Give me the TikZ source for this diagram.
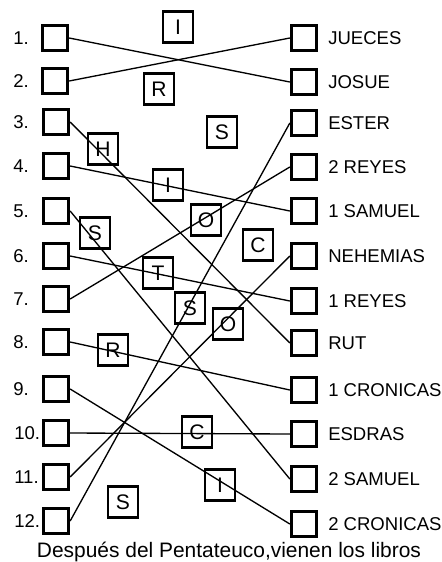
\documentclass[tikz,border=0pt]{standalone}
\usepackage{fontspec}
\setmainfont{Liberation Sans}
\tikzset{
  ans/.style={draw, line width=2.5pt, minimum size=18.75pt, inner sep=0pt},
  letra/.style={draw, line width=2pt, minimum width=22.5pt, minimum height=23.25pt, inner sep=0pt, font=\fontsize{15.8}{18}\selectfont},
  lbl/.style={anchor=west, inner sep=0pt, font=\fontsize{13.9}{16}\selectfont},
  link/.style={line width=1pt}
}
\begin{document}
\begin{tikzpicture}[x=0.75pt, y=-0.75pt]
    \useasboundingbox (0,0) rectangle (442,562);

    % Left column: numbered boxes
    \node[ans] (l1) at (55,38) {};
    \node[ans] (l2) at (55,81) {};
    \node[ans] (l3) at (56,122) {};
    \node[ans] (l4) at (56,166) {};
    \node[ans] (l5) at (56,211) {};
    \node[ans] (l6) at (56,256) {};
    \node[ans] (l7) at (56,299) {};
    \node[ans] (l8) at (56,342) {};
    \node[ans] (l9) at (56,389) {};
    \node[ans] (l10) at (56,433) {};
    \node[ans] (l11) at (56,477) {};
    \node[ans] (l12) at (56,521) {};

    \node[lbl] (n1) at (13,38) {1.};
    \node[lbl] (n2) at (13,81) {2.};
    \node[lbl] (n3) at (13,122) {3.};
    \node[lbl] (n4) at (13,166) {4.};
    \node[lbl] (n5) at (13,211) {5.};
    \node[lbl] (n6) at (13,256) {6.};
    \node[lbl] (n7) at (13,299) {7.};
    \node[lbl] (n8) at (13,342) {8.};
    \node[lbl] (n9) at (13,389) {9.};
    \node[lbl] (n10) at (14,433) {10.};
    \node[lbl] (n11) at (14,477) {11.};
    \node[lbl] (n12) at (14,521) {12.};

    % Right column: books
    \node[ans] (r1) at (304,38) {};
    \node[ans] (r2) at (304,82) {};
    \node[ans] (r3) at (304,123) {};
    \node[ans] (r4) at (304,167) {};
    \node[ans] (r5) at (304,211) {};
    \node[ans] (r6) at (304,256) {};
    \node[ans] (r7) at (304,301) {};
    \node[ans] (r8) at (304,343) {};
    \node[ans] (r9) at (304,390) {};
    \node[ans] (r10) at (304,434) {};
    \node[ans] (r11) at (304,479) {};
    \node[ans] (r12) at (304,524) {};

    \node[lbl] (b1) at (328,38) {JUECES};
    \node[lbl] (b2) at (328,82) {JOSUE};
    \node[lbl] (b3) at (328,123) {ESTER};
    \node[lbl] (b4) at (328,167) {2 REYES};
    \node[lbl] (b5) at (328,211) {1 SAMUEL};
    \node[lbl] (b6) at (328,256) {NEHEMIAS};
    \node[lbl] (b7) at (328,301) {1 REYES};
    \node[lbl] (b8) at (328,343) {RUT};
    \node[lbl] (b9) at (328,390) {1 CRONICAS};
    \node[lbl] (b10) at (328,434) {ESDRAS};
    \node[lbl] (b11) at (328,479) {2 SAMUEL};
    \node[lbl] (b12) at (328,524) {2 CRONICAS};

    % Matching lines
    \draw[link] (l1.east) -- (r2.west);
    \draw[link] (l2.east) -- (r1.west);
    \draw[link] (l3.east) -- (r8.west);
    \draw[link] (l4.east) -- (r5.west);
    \draw[link] (l5.east) -- (r11.west);
    \draw[link] (l6.east) -- (r7.west);
    \draw[link] (l7.east) -- (r4.west);
    \draw[link] (l8.east) -- (r9.west);
    \draw[link] (l9.east) -- (r12.west);
    \draw[link] (l10.east) -- (r10.west);
    \draw[link] (l11.east) -- (r6.west);
    \draw[link] (l12.east) -- (r3.west);

    % Scattered letters
    \node[letra] (k1) at (178,27) {I};
    \node[letra] (k2) at (159,89) {R};
    \node[letra] (k3) at (222,132) {S};
    \node[letra] (k4) at (103,149) {H};
    \node[letra] (k5) at (168,185) {I};
    \node[letra] (k6) at (206,220) {O};
    \node[letra] (k7) at (95,233) {S};
    \node[letra] (k8) at (258,245) {C};
    \node[letra] (k9) at (158,273) {T};
    \node[letra] (k10) at (190,308) {S};
    \node[letra] (k11) at (228,324) {O};
    \node[letra] (k12) at (113,350) {R};
    \node[letra] (k13) at (197,432) {C};
    \node[letra] (k14) at (220,485) {I};
    \node[letra] (k15) at (123,502) {S};

    % Caption
    \node[anchor=base, inner sep=0pt, font=\fontsize{15.7}{18}\selectfont] (cap) at (229,557) {Después del Pentateuco,vienen los libros};
\end{tikzpicture}
\end{document}
